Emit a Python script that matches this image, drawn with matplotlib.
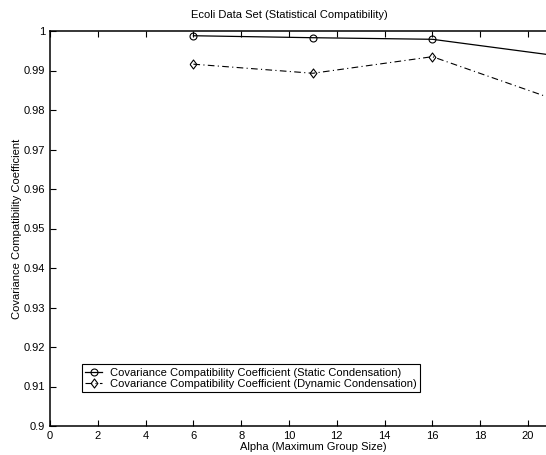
import matplotlib
matplotlib.use("Agg")
import matplotlib.pyplot as plt

plt.rcParams['font.family'] = ['Liberation Sans', 'DejaVu Sans']

# group sizes and compatibility coefficients
alpha = [6, 11, 16, 21]
static_cc = [0.9988, 0.9983, 0.9979, 0.9939]
dynamic_cc = [0.9916, 0.9893, 0.9935, 0.9829]

xticks = list(range(0, 22, 2))
yticks = [0.9, 0.91, 0.92, 0.93, 0.94, 0.95, 0.96, 0.97, 0.98, 0.99, 1.0]
ylabels = ["0.9", "0.91", "0.92", "0.93", "0.94", "0.95", "0.96", "0.97", "0.98", "0.99", "1"]

fig = plt.figure(figsize=(5.46, 4.55), dpi=100)
# axes run past the right edge (original figure was cropped)
ax = fig.add_axes([50 / 546, 29 / 455, 22 * 23.9 / 546, 395 / 455])

diamond = [(-0.75, 0), (0, 1), (0.75, 0), (0, -1), (-0.75, 0)]

ax.plot(alpha, static_cc, color="black", lw=0.9, linestyle="-",
        marker="o", markersize=5, fillstyle="none", markeredgewidth=0.8,
        label="Covariance Compatibility Coefficient (Static Condensation)")
ax.plot(alpha, dynamic_cc, color="black", lw=0.8, linestyle=(0, (6, 3, 1, 3)),
        marker=diamond, markersize=6.5, markerfacecolor="none", markeredgewidth=0.8,
        label="Covariance Compatibility Coefficient (Dynamic Condensation)")

ax.set_xlim(0, 22)
ax.set_ylim(0.9, 1.0)
ax.set_xticks(xticks)
ax.set_yticks(yticks)
ax.set_yticklabels(ylabels)
ax.tick_params(direction="in", top=True, right=True, labelsize=8, length=4, width=0.8)
for s in ax.spines.values():
    s.set_linewidth(1.1)

ax.set_title("Ecoli Data Set (Statistical Compatibility)", fontsize=8, pad=9, x=0.456)
ax.set_xlabel("Alpha (Maximum Group Size)", fontsize=8, labelpad=1)
ax.set_ylabel("Covariance Compatibility Coefficient", fontsize=8, labelpad=1)

leg = ax.legend(loc="lower left", bbox_to_anchor=(0.061, 0.086), borderaxespad=0,
                fontsize=8, fancybox=False, framealpha=1, edgecolor="black",
                handlelength=1.5, handletextpad=0.7, borderpad=0.3, labelspacing=0.1)
leg.get_frame().set_linewidth(0.8)

fig.savefig("out.png", dpi=100)
